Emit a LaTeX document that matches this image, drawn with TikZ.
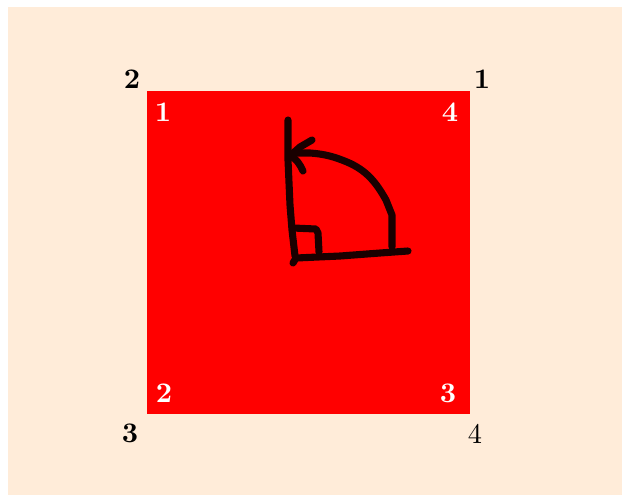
\documentclass[tikz,border=0pt]{standalone}
\begin{document}
\begin{tikzpicture}[x=0.012384cm, y=-0.012384cm,
  outlbl/.style={text=black, inner sep=0pt, font=\bfseries},
  inlbl/.style={text=white, inner sep=0pt, font=\bfseries},
  pen/.style={line width=2.5pt, line cap=round, line join=round, draw=black!90!red}]
\useasboundingbox (0,0) rectangle (622,495);
\fill[orange!15] (8,7) rectangle (622,495);
\fill[red] (147,91) rectangle (470,414);
% corner labels outside
\node[outlbl] (o2) at (132,79) {2};
\node[outlbl] (o1) at (482,79) {1};
\node[outlbl] (o3) at (130,433) {3};
\node[inner sep=0pt] (o4) at (475,434) {4};
% corner labels inside
\node[inlbl] (i1) at (163,112) {1};
\node[inlbl] (i4) at (450,112) {4};
\node[inlbl] (i2) at (164,393) {2};
\node[inlbl] (i3) at (448,393) {3};
% hand drawn sketch
\draw[pen] (288,120) -- (288,160) -- (290,205) -- (292,230) -- (295,256);
\draw[pen] (293,263) -- (296,258) -- (340,256) -- (380,253) -- (408,251);
\draw[pen] (293,228) -- (316,229) -- (318,233) -- (319,252);
\draw[pen] (392,247) -- (392,215) -- (386,200) .. controls (376,182) and (366,170) .. (347,162)
  .. controls (335,157) and (325,154) .. (310,153) -- (293,153);
\draw[pen] (312,140) -- (300,147) -- (291,155);
\draw[pen] (291,156) .. controls (296,159) and (300,164) .. (303,171);
\end{tikzpicture}
\end{document}
